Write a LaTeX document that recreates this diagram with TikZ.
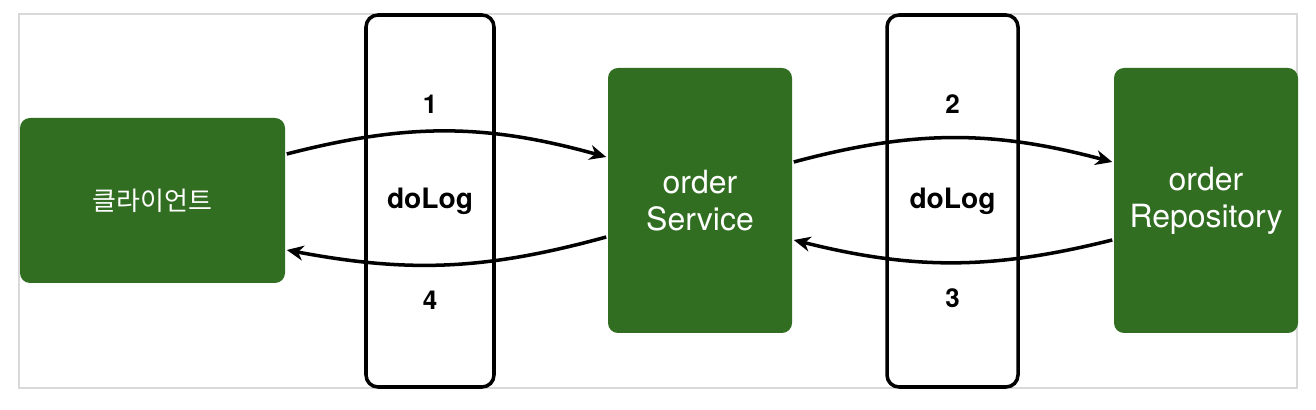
\documentclass[tikz,border=0pt]{standalone}
\usepackage{fontspec}
\setmainfont{TeX Gyre Heros}
\newfontfamily\kofont{Noto Sans CJK KR}
\usetikzlibrary{arrows.meta, positioning}
\definecolor{compgreen}{HTML}{316E21}
\definecolor{framegray}{HTML}{D9D9D9}

\begin{document}
\begin{tikzpicture}[on grid, line width=2pt,
        >={Stealth[length=9.5pt, width=8.5pt, inset=3pt]},
        comp/.style={draw=none, fill=compgreen, rounded corners=0.2cm, text=white,
                     align=center, inner sep=0pt, font=\fontsize{18.2}{21}\selectfont},
        logbox/.style={draw=black, rounded corners=0.24cm, minimum width=2.56cm,
                       minimum height=7.44cm, inner sep=0pt, font=\bfseries\fontsize{16}{19}\selectfont},
        num/.style={font=\bfseries\fontsize{14.8}{17}\selectfont}]
        \useasboundingbox (0,0) rectangle (26.32,8.2);
        \draw[framegray, line width=1.1pt] (0.38,0.44) rectangle (25.94,7.92);
        \node[comp, minimum width=5.3cm, minimum height=3.3cm] (client) at (3.05,4.19)
                {\kofont\fontsize{14.8}{17}\selectfont 클라이언트};
        \node[logbox] (log1) [right=5.55cm of client, yshift=-0.01cm] {doLog};
        \node[comp, minimum width=3.68cm, minimum height=5.3cm] (service) [right=10.95cm of client] {order\\Service};
        \node[logbox, minimum width=2.62cm] (log2) [right=5.05cm of service, yshift=-0.01cm] {doLog};
        \node[comp, minimum width=3.68cm, minimum height=5.3cm] (repo) [right=10.12cm of service] {order\\Repository};
        \node[num] (n1) [above=1.94cm of log1] {1};
        \node[num] (n4) [below=1.98cm of log1] {4};
        \node[num] (n2) [above=1.94cm of log2] {2};
        \node[num] (n3) [below=1.94cm of log2] {3};
        \path[->]
        ([yshift=0.93cm]client.east) edge[bend left=15] ([yshift=0.87cm]service.west)
        ([yshift=-0.73cm]service.west) edge[bend left=13] ([yshift=-0.99cm]client.east)
        ([yshift=0.77cm]service.east) edge[bend left=15] ([yshift=0.77cm]repo.west)
        ([yshift=-0.79cm]repo.west) edge[bend left=14] ([yshift=-0.79cm]service.east);
\end{tikzpicture}
\end{document}
